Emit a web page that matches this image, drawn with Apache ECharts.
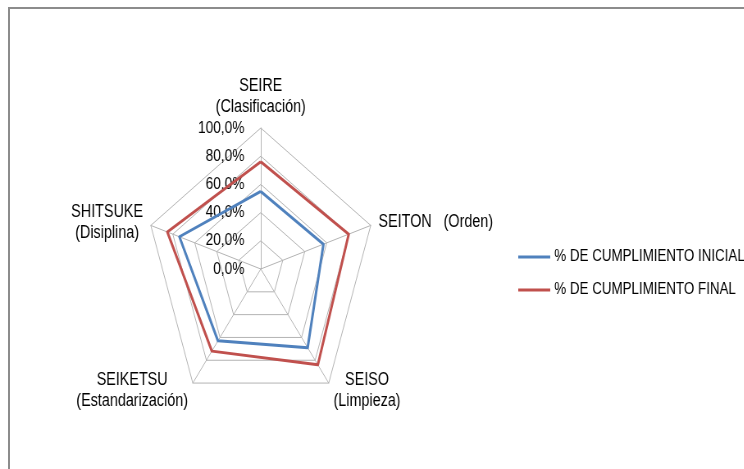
<!DOCTYPE html>
<html>
<head>
<meta charset="utf-8">
<script src="https://cdn.jsdelivr.net/npm/echarts@6/dist/echarts.min.js"></script>
<style>
  html, body { margin: 0; padding: 0; background: #ffffff; overflow: hidden; }
  .frame {
    position: absolute; left: 8px; top: 7px; width: 760px; height: 480px;
    border-top: 2px solid #8c8c8c; border-left: 2px solid #8c8c8c;
  }
  /* el grafico original esta comprimido en horizontal */
  .main {
    position: absolute; left: 0; top: 0;
    width: 907px; height: 469px;
    transform: scaleX(0.82); transform-origin: 0 0;
  }
</style>
</head>
<body>
<div class="frame"></div>
<div id="main" class="main"></div>
<script>
  // orden de lectura, en sentido horario desde arriba
  var categories = ['SEIRE\n(Clasificación)', 'SEITON   (Orden)', 'SEISO\n(Limpieza)', 'SEIKETSU\n(Estandarización)', 'SHITSUKE\n(Disiplina)'];
  var seriesNames = ['% DE CUMPLIMIENTO INICIAL', '% DE CUMPLIMIENTO FINAL'];
  var inicial = [0.55, 0.57, 0.69, 0.63, 0.74];
  var final = [0.76, 0.80, 0.84, 0.72, 0.85];
  var colors = ['#4F81BD', '#C0504D'];

  var textColor = '#000000';
  var font = '"Liberation Sans", Arial, sans-serif';

  // echarts dibuja el radar en sentido antihorario: se invierte el orden (menos el primero)
  function clockwise(arr) {
    return [arr[0]].concat(arr.slice(1).reverse());
  }

  var myChart = echarts.init(document.getElementById('main'), null, {renderer: 'canvas'});

  var indicator = clockwise(categories).map(function (name, i) {
    var ind = {name: name, min: 0, max: 1};
    if (i === 0) {
      ind.axisLabel = {show: true};
    }
    return ind;
  });

  var option = {
    backgroundColor: 'transparent',
    animation: false,
    textStyle: {fontFamily: font},
    color: colors,
    legend: {
      orient: 'vertical',
      left: 627,
      top: 244,
      itemWidth: 39,
      itemHeight: 3,
      itemGap: 17,
      icon: 'rect',
      textStyle: {fontSize: 16.3, color: textColor, fontFamily: font},
      data: seriesNames
    },
    radar: {
      center: [318, 269],
      radius: 141,
      startAngle: 90,
      shape: 'polygon',
      splitNumber: 5,
      nameGap: 10,
      indicator: indicator,
      axisName: {
        color: textColor,
        fontSize: 17.5,
        fontFamily: font,
        formatter: function (name) {
          return name.split('\n').map(function (l) { return '{c|' + l + '}'; }).join('\n');
        },
        rich: {
          c: {align: 'center', fontSize: 17.5, lineHeight: 21, color: textColor, fontFamily: font}
        }
      },
      axisLabel: {
        show: false,
        margin: 20,
        fontSize: 16.7,
        color: textColor,
        fontFamily: font,
        formatter: function (v) {
          return (v * 100).toFixed(1).replace('.', ',') + '%';
        }
      },
      axisTick: {show: false},
      axisLine: {lineStyle: {color: '#b3b3b3', width: 1}},
      splitLine: {lineStyle: {color: '#b3b3b3', width: 1}},
      splitArea: {show: false}
    },
    series: [{
      type: 'radar',
      symbol: 'none',
      data: [
        {name: seriesNames[0], value: clockwise(inicial), lineStyle: {color: colors[0], width: 3}, itemStyle: {color: colors[0]}},
        {name: seriesNames[1], value: clockwise(final), lineStyle: {color: colors[1], width: 3}, itemStyle: {color: colors[1]}}
      ]
    }]
  };

  myChart.setOption(option);
</script>
</body>
</html>
